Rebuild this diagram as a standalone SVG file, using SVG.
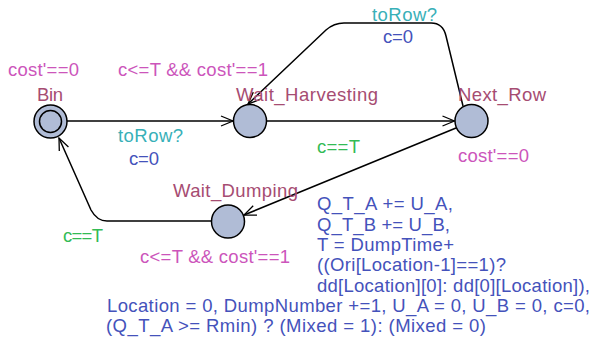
<svg xmlns="http://www.w3.org/2000/svg" width="592" height="339" viewBox="0 0 592 339">
<defs>
<marker id="ah" markerWidth="14" markerHeight="12" refX="13" refY="6" orient="auto" markerUnits="userSpaceOnUse">
<path d="M1,1 L13,6 L1,11" fill="none" stroke="#000" stroke-width="1.3"/>
</marker>
<style>
text{font-family:Arial,"Liberation Sans",sans-serif;font-size:18.5px}
.nm{fill:#a64c72}
.inv{fill:#cc55bb}
.syn{fill:#38b0b8}
.upd{fill:#4452bb}
.grd{fill:#33bb55}
.loc{fill:#b0bcd6;stroke:#000;stroke-width:1.5}
.edge{fill:none;stroke:#000;stroke-width:1.5;marker-end:url(#ah)}
</style>
</defs>
<rect width="592" height="339" fill="#fff"/>
<g id="connectors">
<path class="edge" d="M67,121 L233,121"/>
<path class="edge" d="M267,121 L454.5,121"/>
<path class="edge" d="M463,106 L446,36 Q443,23 431,23 L344,23 Q334,23 326,30 L248,104"/>
<path class="edge" d="M456,128 L244,215"/>
<path class="edge" d="M211,221 L107,221 Q97,221 91,210 L59,138"/>
</g>
<g id="Bin">
<circle class="loc" cx="50.5" cy="121.5" r="16.5"/>
<circle cx="50.5" cy="121.5" r="11" fill="none" stroke="#000" stroke-width="1.5"/>
<text class="nm" x="37" y="101" textLength="26" lengthAdjust="spacing">Bin</text>
<text class="inv" x="8" y="76" textLength="71" lengthAdjust="spacing">cost'==0</text>
</g>
<g id="Wait_Harvesting">
<circle class="loc" cx="250" cy="121" r="16.5"/>
<text class="nm" x="236" y="101" textLength="142" lengthAdjust="spacing">Wait_Harvesting</text>
<text class="inv" x="118" y="76" textLength="150" lengthAdjust="spacing">c&lt;=T &amp;&amp; cost'==1</text>
</g>
<g id="Next_Row">
<circle class="loc" cx="471.5" cy="121" r="16.5"/>
<text class="nm" x="458" y="101" textLength="88" lengthAdjust="spacing">Next_Row</text>
<text class="inv" x="458" y="162" textLength="71" lengthAdjust="spacing">cost'==0</text>
</g>
<g id="Wait_Dumping">
<circle class="loc" cx="228" cy="221.5" r="16.5"/>
<text class="nm" x="173" y="197" textLength="125" lengthAdjust="spacing">Wait_Dumping</text>
<text class="inv" x="140" y="263" textLength="150" lengthAdjust="spacing">c&lt;=T &amp;&amp; cost'==1</text>
</g>
<g id="labels">
<text class="syn" x="118" y="142" textLength="65" lengthAdjust="spacing">toRow?</text>
<text class="upd" x="129" y="165" textLength="30" lengthAdjust="spacing">c=0</text>
<text class="syn" x="372" y="21" textLength="65" lengthAdjust="spacing">toRow?</text>
<text class="upd" x="383" y="43" textLength="30" lengthAdjust="spacing">c=0</text>
<text class="grd" x="317" y="153" textLength="43" lengthAdjust="spacing">c==T</text>
<text class="grd" x="63" y="242" textLength="40" lengthAdjust="spacing">c==T</text>
<text class="upd" x="317" y="210" textLength="136" lengthAdjust="spacing">Q_T_A += U_A,</text>
<text class="upd" x="317" y="230.5" textLength="133" lengthAdjust="spacing">Q_T_B += U_B,</text>
<text class="upd" x="317" y="251" textLength="137" lengthAdjust="spacing">T = DumpTime+</text>
<text class="upd" x="317" y="271" textLength="189" lengthAdjust="spacing">((Ori[Location-1]==1)?</text>
<text class="upd" x="317" y="291.5" textLength="273" lengthAdjust="spacing">dd[Location][0]: dd[0][Location]),</text>
<text class="upd" x="107" y="312" textLength="483" lengthAdjust="spacing">Location = 0, DumpNumber +=1, U_A = 0, U_B = 0, c=0,</text>
<text class="upd" x="106" y="332" textLength="380" lengthAdjust="spacing">(Q_T_A &gt;= Rmin) ? (Mixed = 1): (Mixed = 0)</text>
</g>
</svg>
